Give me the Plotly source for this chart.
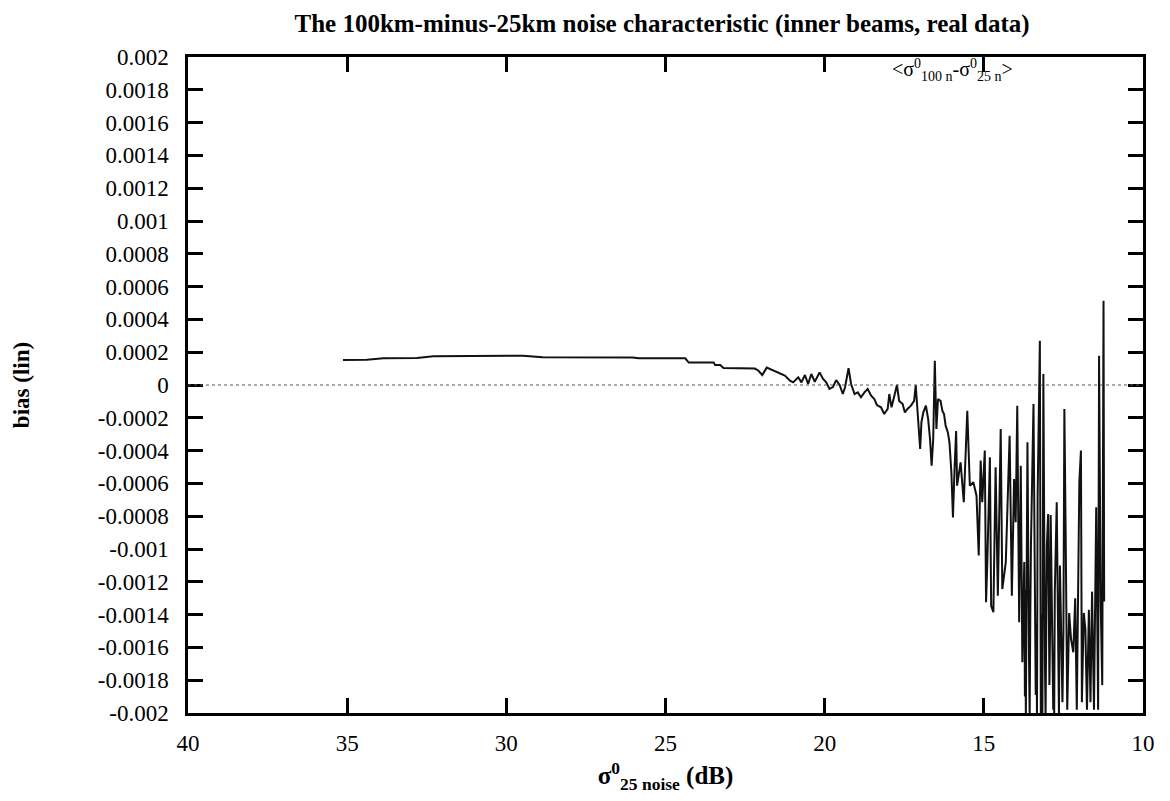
import plotly.graph_objects as go

# ---- data ----
noise_db = [
    35.13, 34.38, 33.86, 32.81, 32.29, 30.73, 29.48, 28.86, 27.61, 26.04,
    25.83, 24.38, 24.27, 23.49, 23.44, 23.28, 23.18, 22.92, 22.50, 22.19,
    22.08, 21.96, 21.82, 21.67, 21.46, 21.25, 21.09, 20.99, 20.83, 20.73,
    20.62, 20.52, 20.42, 20.31, 20.16, 20.05, 19.95, 19.85, 19.74, 19.64,
    19.53, 19.43, 19.36, 19.25, 19.17, 19.06, 18.96, 18.86, 18.75, 18.65,
    18.54, 18.44, 18.36, 18.23, 18.13, 18.02, 17.97, 17.90, 17.81, 17.73,
    17.66, 17.55, 17.48, 17.40, 17.29, 17.19, 17.14, 17.08, 17.03, 17.00,
    16.96, 16.90, 16.82, 16.75, 16.69, 16.64, 16.59, 16.54, 16.49, 16.44,
    16.36, 16.30, 16.25, 16.20, 16.13, 16.08, 16.02, 15.97, 15.92, 15.87,
    15.84, 15.73, 15.63, 15.52, 15.44, 15.33, 15.23, 15.16, 15.10, 15.05,
    14.97, 14.93, 14.89, 14.81, 14.77, 14.70, 14.63, 14.56, 14.47, 14.42,
    14.31, 14.26, 14.19, 14.12, 14.05, 14.00, 13.95, 13.89, 13.84,
    13.79, 13.73, 13.71, 13.70, 13.68, 13.63, 13.58, 13.56, 13.54, 13.52,
    13.44, 13.37, 13.35, 13.33, 13.31, 13.24, 13.21, 13.18, 13.16, 13.13,
    13.08, 13.06, 13.04, 13.02, 12.98, 12.94, 12.92, 12.90, 12.82, 12.80,
    12.79, 12.77, 12.71, 12.66, 12.64, 12.61, 12.53, 12.50, 12.47, 12.43,
    12.38, 12.35, 12.32, 12.26, 12.19, 12.13, 12.08, 12.00, 11.95, 11.92,
    11.89, 11.86, 11.81, 11.79, 11.76, 11.70, 11.67, 11.65, 11.60, 11.57,
    11.54, 11.47, 11.43, 11.41, 11.38, 11.33, 11.28, 11.24, 11.22,
]

bias_lin = [
    1.52e-4, 1.54e-4, 1.63e-4, 1.65e-4, 1.75e-4, 1.77e-4, 1.79e-4, 1.69e-4, 1.69e-4, 1.67e-4,
    1.63e-4, 1.63e-4, 1.37e-4, 1.37e-4, 1.22e-4, 1.22e-4, 1.04e-4, 1.04e-4, 1.04e-4, 1.00e-4,
    0.87e-4, 0.61e-4, 1.06e-4, 0.92e-4, 0.77e-4, 0.57e-4, 0.26e-4, 0.16e-4, 0.47e-4, 0.16e-4,
    0.61e-4, 0.06e-4, 0.67e-4, 0.20e-4, 0.77e-4, 0.37e-4, 0.16e-4, -0.24e-4, -0.13e-4, 0.30e-4,
    0.00e-4, -0.55e-4, -0.14e-4, 1.02e-4, 0.06e-4, -0.55e-4, -0.45e-4, -0.75e-4, -0.45e-4, -0.24e-4,
    -0.65e-4, -0.85e-4, -1.22e-4, -1.36e-4, -1.77e-4, -1.46e-4, -0.55e-4, -1.36e-4, -0.65e-4, 0.00e-4,
    -0.97e-4, -1.16e-4, -1.67e-4, -1.46e-4, -1.26e-4, -0.97e-4, 0.00e-4, -1.67e-4, -2.68e-4, -3.90e-4,
    -2.27e-4, -1.67e-4, -1.26e-4, -2.07e-4, -3.29e-4, -4.92e-4, -3.29e-4, 1.48e-4, -2.68e-4, -0.85e-4,
    -0.97e-4, -1.59e-4, -1.77e-4, -2.48e-4, -2.89e-4, -3.50e-4, -5.30e-4, -8.07e-4, -5.12e-4, -2.80e-4,
    -6.14e-4, -4.72e-4, -7.15e-4, -1.57e-4, -6.14e-4, -5.93e-4, -6.75e-4, -10.4e-4, -4.61e-4, -7.15e-4,
    -4.00e-4, -13.25e-4, -10.8e-4, -4.41e-4, -13.46e-4, -13.86e-4, -5.02e-4, -12.85e-4, -2.68e-4, -12.44e-4,
    -10.8e-4, -7.97e-4, -3.09e-4, -12.85e-4, -5.73e-4, -8.37e-4, -1.26e-4, -14.47e-4, -4.92e-4,
    -16.9e-4, -10.8e-4, -19.0e-4, -12.5e-4, -20.2e-4, -3.49e-4, -16.9e-4, -20.2e-4, -14.0e-4, -9.8e-4,
    -1.16e-4, -18.9e-4, -14.5e-4, -20.2e-4, -6.75e-4, 2.70e-4, -20.2e-4, -14.0e-4, -20.2e-4, 0.67e-4,
    -16.9e-4, -20.2e-4, -15.0e-4, -9.8e-4, -7.87e-4, -18.3e-4, -15.0e-4, -7.93e-4, -19.8e-4, -16.5e-4,
    -20.2e-4, -12.6e-4, -7.15e-4, -16.3e-4, -20.2e-4, -11.0e-4, -19.35e-4, -15.0e-4, -1.46e-4, -9.0e-4,
    -19.8e-4, -17.0e-4, -13.9e-4, -15.5e-4, -16.3e-4, -13.0e-4, -19.8e-4, -5.93e-4, -4.00e-4, -19.35e-4,
    -17.0e-4, -13.9e-4, -14.9e-4, -17.0e-4, -19.8e-4, -13.7e-4, -16.5e-4, -19.35e-4, -12.6e-4, -17.0e-4,
    -19.8e-4, -7.46e-4, -16.3e-4, -19.8e-4, 1.79e-4, -13.2e-4, -18.3e-4, 5.14e-4, -13.2e-4,
]

x_tick_labels = ["40", "35", "30", "25", "20", "15", "10"]
y_tick_labels = ["-0.002", "-0.0018", "-0.0016", "-0.0014", "-0.0012", "-0.001",
                 "-0.0008", "-0.0006", "-0.0004", "-0.0002", "0", "0.0002",
                 "0.0004", "0.0006", "0.0008", "0.001", "0.0012", "0.0014",
                 "0.0016", "0.0018", "0.002"]

title_text = "The 100km-minus-25km noise characteristic (inner beams, real data)"
legend_text = "&lt;σ<sup>0</sup><sub>100 n</sub>-σ<sup>0</sup><sub>25 n</sub>&gt;"

SERIF = "Liberation Serif, Times New Roman, serif"

fig = go.Figure()
fig.add_trace(go.Scatter(
    x=noise_db, y=bias_lin, mode="lines",
    line=dict(color="#111111", width=2),
    showlegend=False,
))

fig.add_hline(y=0, line=dict(color="#555555", width=1, dash="dot"))

axis_common = dict(
    showline=True, linewidth=2.5, linecolor="black", mirror="allticks",
    ticks="inside", ticklen=15, tickwidth=2.5, tickcolor="black",
    showgrid=False, zeroline=False,
    tickfont=dict(family=SERIF, size=23, color="black"),
)

fig.update_xaxes(
    range=[40, 10], tickvals=[float(t) for t in x_tick_labels], ticktext=x_tick_labels,
    title=dict(text="<b>σ<sup>0</sup><sub>25 noise</sub> (dB)</b>",
               font=dict(family=SERIF, size=25, color="black"), standoff=12),
    ticklabelstandoff=8,
    **axis_common,
)
fig.update_yaxes(
    range=[-0.002, 0.002], tickvals=[float(t) for t in y_tick_labels], ticktext=y_tick_labels,
    title=dict(text="<b>bias (lin)</b>",
               font=dict(family=SERIF, size=23, color="black"), standoff=62),
    ticklabelstandoff=12,
    **axis_common,
)

fig.add_annotation(
    text=legend_text, xref="paper", yref="paper", x=0.80, y=0.98,
    xanchor="center", yanchor="middle", showarrow=False,
    font=dict(family=SERIF, size=20, color="black"),
)

fig.update_layout(
    width=1170, height=801,
    paper_bgcolor="white", plot_bgcolor="white",
    margin=dict(l=180, r=35, t=49, b=96),
    title=dict(text="<b>" + title_text + "</b>", x=0.559, xanchor="center",
               y=0.981, yanchor="middle",
               font=dict(family=SERIF, size=25, color="black")),
)

fig.write_html("out.html")
